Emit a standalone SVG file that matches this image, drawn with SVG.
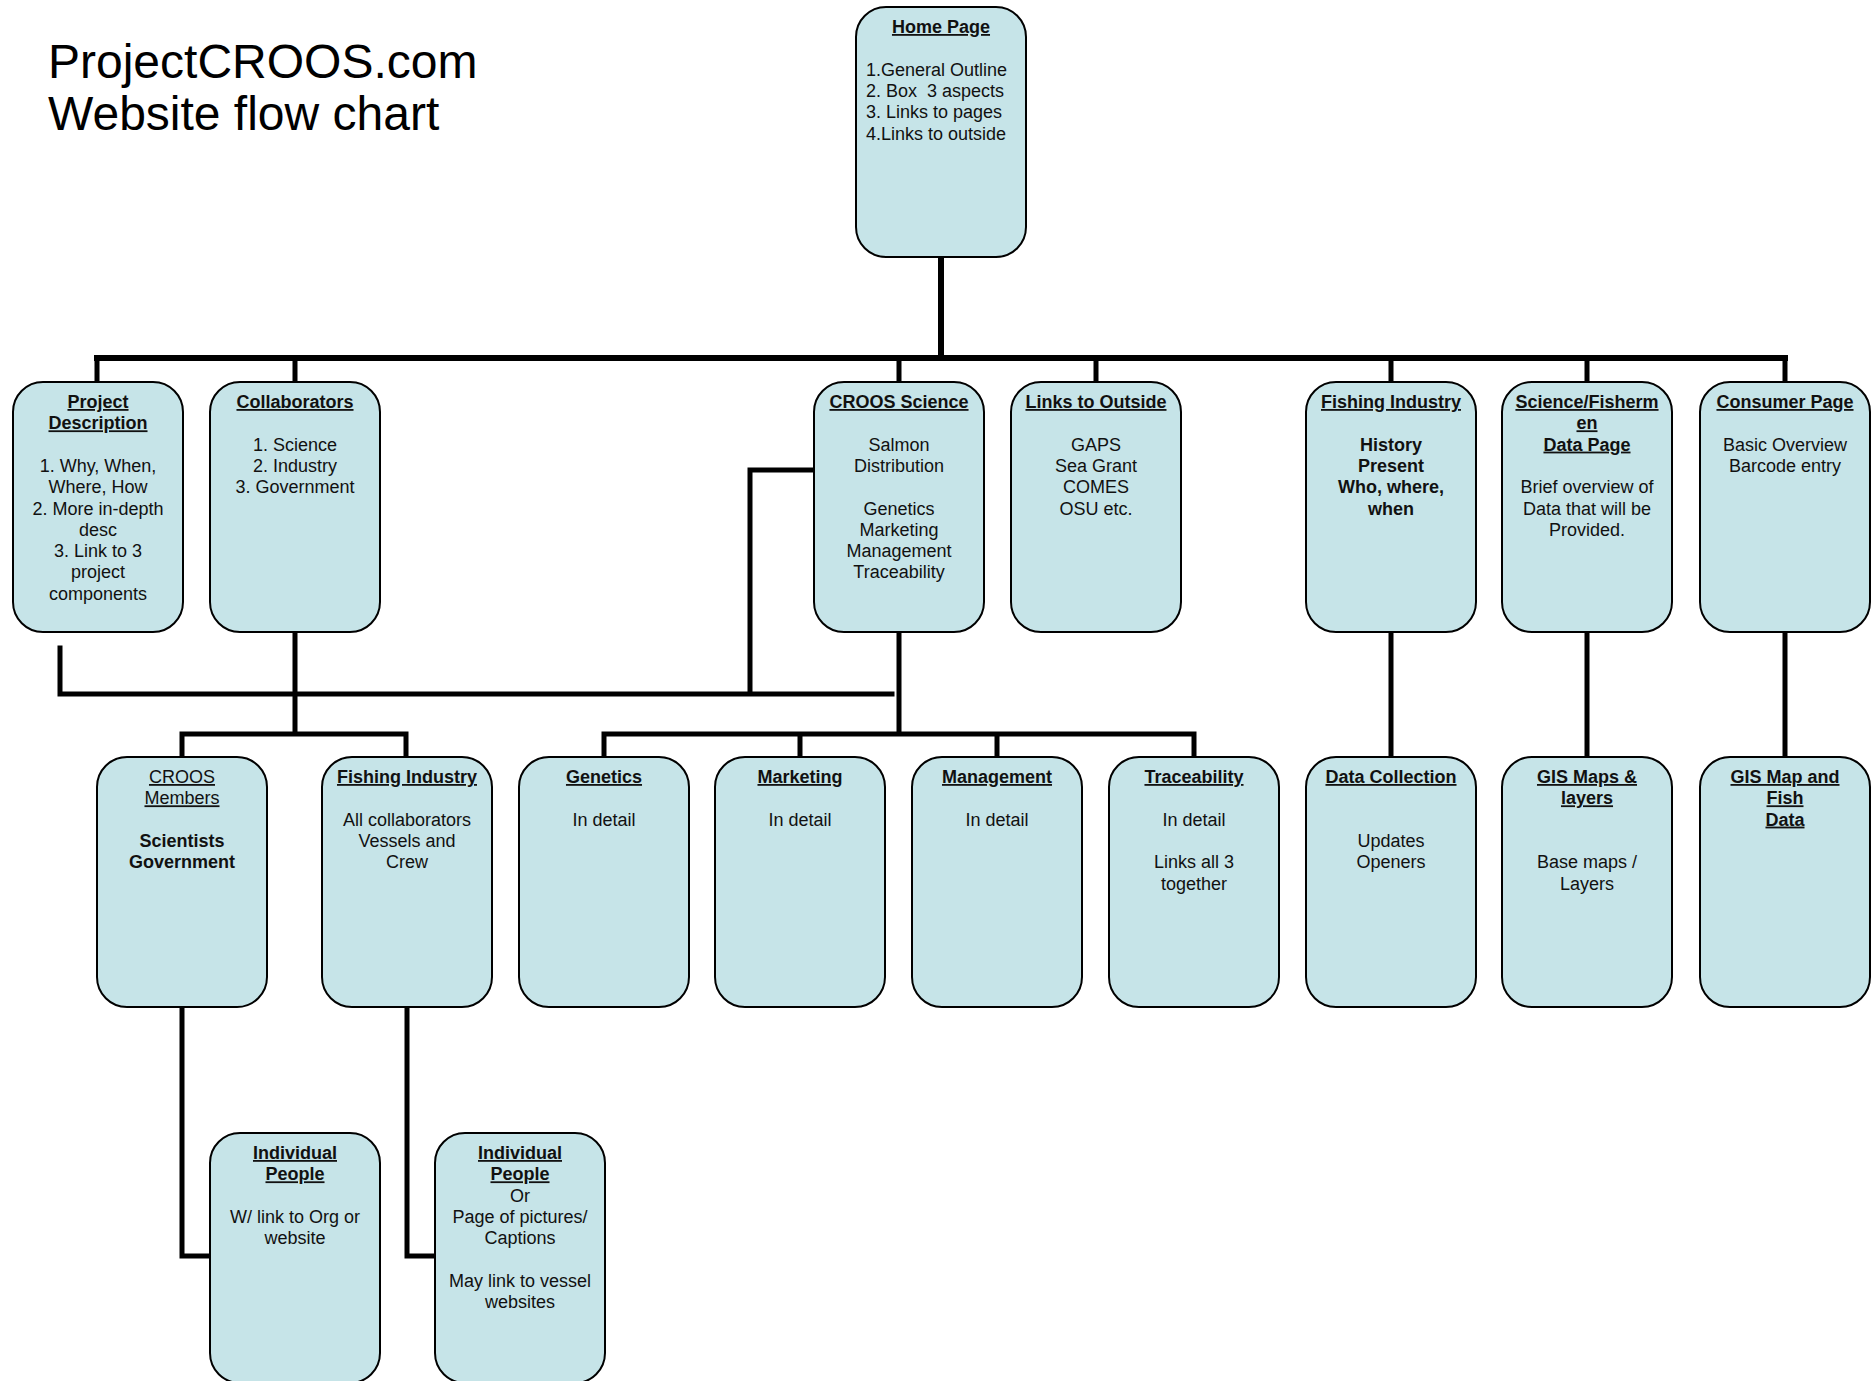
<svg xmlns="http://www.w3.org/2000/svg" width="1871" height="1381" viewBox="0 0 1871 1381">
<style>
.box{fill:#c6e4e8;stroke:#000;stroke-width:2}
text{font-family:"Liberation Sans",Arial,sans-serif;font-size:18px;fill:#111;text-anchor:middle}
.l{text-anchor:start}
.b{font-weight:bold}
.u{text-decoration:underline}
.title{font-size:48px;text-anchor:start;fill:#000}
.c{fill:none;stroke:#000;stroke-width:5;stroke-linecap:square}
</style>
<rect width="1871" height="1381" fill="#fff"/>
<text class="title" x="48" y="78">ProjectCROOS.com</text>
<text class="title" x="48" y="130">Website flow chart</text>
<g id="connectors">
<path class="c" d="M941 257V358M97 358H1785" style="stroke-width:6"/>
<path class="c" d="M97 358V382M295 358V382M899 358V382M1096 358V382M1391 358V382M1587 358V382M1785 358V382"/>
<path class="c" d="M60 648V694H892M750 694V470H815"/>
<path class="c" d="M295 632V734M182 757V734H406V757"/>
<path class="c" d="M899 632V734M604 757V734H1194V757M800 734V757M997 734V757"/>
<path class="c" d="M1391 632V757M1587 632V757M1785 632V757"/>
<path class="c" d="M182 1007V1256H210M407 1007V1256H435"/>
</g>
<g id="home">
<rect class="box" x="856" y="7" width="170" height="250" rx="30"/>
<text x="941" y="33" class="b u">Home Page</text>
<text class="l" x="866" y="75.6">1.General Outline</text>
<text class="l" x="866" y="96.9" xml:space="preserve">2. Box  3 aspects</text>
<text class="l" x="866" y="118.2">3. Links to pages</text>
<text class="l" x="866" y="139.5">4.Links to outside</text>
</g>
<g id="project-description">
<rect class="box" x="13" y="382" width="170" height="250" rx="30"/>
<text x="98" y="408" class="b u">Project</text>
<text x="98" y="429.3" class="b u">Description</text>
<text x="98" y="471.9">1. Why, When,</text>
<text x="98" y="493.2">Where, How</text>
<text x="98" y="514.5">2. More in-depth</text>
<text x="98" y="535.8">desc</text>
<text x="98" y="557.1">3. Link to 3</text>
<text x="98" y="578.4">project</text>
<text x="98" y="599.7">components</text>
</g>
<g id="collaborators">
<rect class="box" x="210" y="382" width="170" height="250" rx="30"/>
<text x="295" y="408" class="b u">Collaborators</text>
<text x="295" y="450.6">1. Science</text>
<text x="295" y="471.9">2. Industry</text>
<text x="295" y="493.2">3. Government</text>
</g>
<g id="croos-science">
<rect class="box" x="814" y="382" width="170" height="250" rx="30"/>
<text x="899" y="408" class="b u">CROOS Science</text>
<text x="899" y="450.6">Salmon</text>
<text x="899" y="471.9">Distribution</text>
<text x="899" y="514.5">Genetics</text>
<text x="899" y="535.8">Marketing</text>
<text x="899" y="557.1">Management</text>
<text x="899" y="578.4">Traceability</text>
</g>
<g id="links-outside">
<rect class="box" x="1011" y="382" width="170" height="250" rx="30"/>
<text x="1096" y="408" class="b u">Links to Outside</text>
<text x="1096" y="450.6">GAPS</text>
<text x="1096" y="471.9">Sea Grant</text>
<text x="1096" y="493.2">COMES</text>
<text x="1096" y="514.5">OSU etc.</text>
</g>
<g id="fishing-industry">
<rect class="box" x="1306" y="382" width="170" height="250" rx="30"/>
<text x="1391" y="408" class="b u">Fishing Industry</text>
<text x="1391" y="450.6" class="b">History</text>
<text x="1391" y="471.9" class="b">Present</text>
<text x="1391" y="493.2" class="b">Who, where,</text>
<text x="1391" y="514.5" class="b">when</text>
</g>
<g id="science-fishermen">
<rect class="box" x="1502" y="382" width="170" height="250" rx="30"/>
<text x="1587" y="408" class="b u">Science/Fisherm</text>
<text x="1587" y="429.3" class="b u">en</text>
<text x="1587" y="450.6" class="b u">Data Page</text>
<text x="1587" y="493.2">Brief overview of</text>
<text x="1587" y="514.5">Data that will be</text>
<text x="1587" y="535.8">Provided.</text>
</g>
<g id="consumer-page">
<rect class="box" x="1700" y="382" width="170" height="250" rx="30"/>
<text x="1785" y="408" class="b u">Consumer Page</text>
<text x="1785" y="450.6">Basic Overview</text>
<text x="1785" y="471.9">Barcode entry</text>
</g>
<g id="croos-members">
<rect class="box" x="97" y="757" width="170" height="250" rx="30"/>
<text x="182" y="783" class="u">CROOS</text>
<text x="182" y="804.3" class="u">Members</text>
<text x="182" y="846.9" class="b">Scientists</text>
<text x="182" y="868.2" class="b">Government</text>
</g>
<g id="fishing-industry-2">
<rect class="box" x="322" y="757" width="170" height="250" rx="30"/>
<text x="407" y="783" class="b u">Fishing Industry</text>
<text x="407" y="825.6">All collaborators</text>
<text x="407" y="846.9">Vessels and</text>
<text x="407" y="868.2">Crew</text>
</g>
<g id="genetics">
<rect class="box" x="519" y="757" width="170" height="250" rx="30"/>
<text x="604" y="783" class="b u">Genetics</text>
<text x="604" y="825.6">In detail</text>
</g>
<g id="marketing">
<rect class="box" x="715" y="757" width="170" height="250" rx="30"/>
<text x="800" y="783" class="b u">Marketing</text>
<text x="800" y="825.6">In detail</text>
</g>
<g id="management">
<rect class="box" x="912" y="757" width="170" height="250" rx="30"/>
<text x="997" y="783" class="b u">Management</text>
<text x="997" y="825.6">In detail</text>
</g>
<g id="traceability">
<rect class="box" x="1109" y="757" width="170" height="250" rx="30"/>
<text x="1194" y="783" class="b u">Traceability</text>
<text x="1194" y="825.6">In detail</text>
<text x="1194" y="868.2">Links all 3</text>
<text x="1194" y="889.5">together</text>
</g>
<g id="data-collection">
<rect class="box" x="1306" y="757" width="170" height="250" rx="30"/>
<text x="1391" y="783" class="b u">Data Collection</text>
<text x="1391" y="846.9">Updates</text>
<text x="1391" y="868.2">Openers</text>
</g>
<g id="gis-maps">
<rect class="box" x="1502" y="757" width="170" height="250" rx="30"/>
<text x="1587" y="783" class="b u">GIS Maps &amp;</text>
<text x="1587" y="804.3" class="b u">layers</text>
<text x="1587" y="868.2">Base maps /</text>
<text x="1587" y="889.5">Layers</text>
</g>
<g id="gis-map-fish">
<rect class="box" x="1700" y="757" width="170" height="250" rx="30"/>
<text x="1785" y="783" class="b u">GIS Map and</text>
<text x="1785" y="804.3" class="b u">Fish</text>
<text x="1785" y="825.6" class="b u">Data</text>
</g>
<g id="individual-people-1">
<rect class="box" x="210" y="1133" width="170" height="250" rx="30"/>
<text x="295" y="1159" class="b u">Individual</text>
<text x="295" y="1180.3" class="b u">People</text>
<text x="295" y="1222.9">W/ link to Org or</text>
<text x="295" y="1244.2">website</text>
</g>
<g id="individual-people-2">
<rect class="box" x="435" y="1133" width="170" height="250" rx="30"/>
<text x="520" y="1159" class="b u">Individual</text>
<text x="520" y="1180.3" class="b u">People</text>
<text x="520" y="1201.6">Or</text>
<text x="520" y="1222.9">Page of pictures/</text>
<text x="520" y="1244.2">Captions</text>
<text x="520" y="1286.8">May link to vessel</text>
<text x="520" y="1308.1">websites</text>
</g>
</svg>
